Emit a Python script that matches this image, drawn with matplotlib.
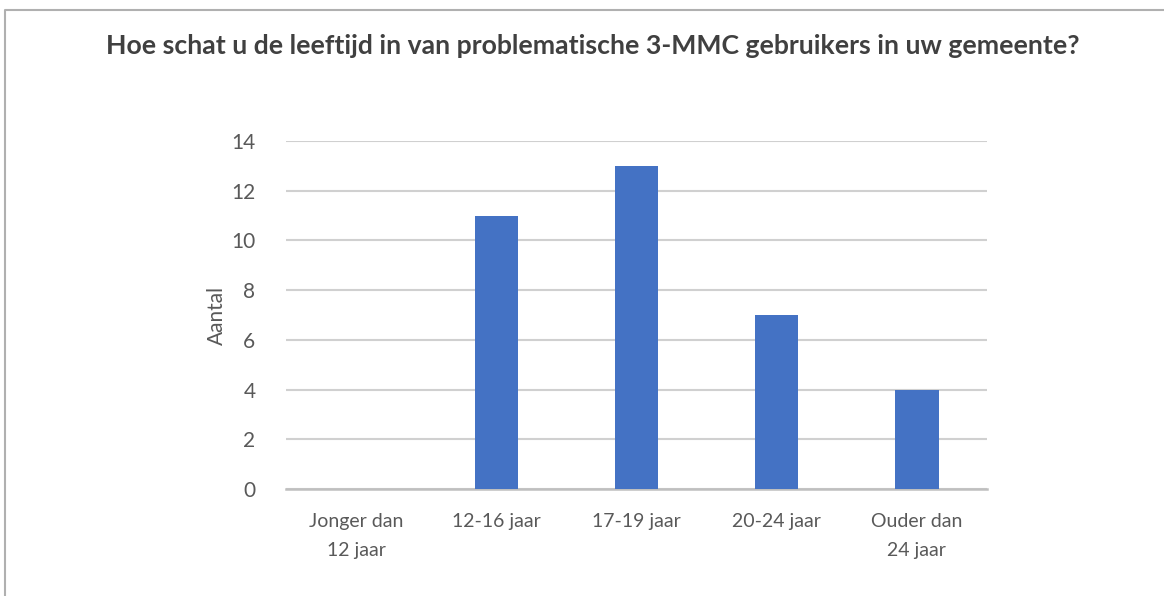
import matplotlib
matplotlib.use('Agg')
import matplotlib.pyplot as plt
from matplotlib.lines import Line2D

# Data
categories = ['Jonger dan\n12 jaar', '12-16 jaar', '17-19 jaar', '20-24 jaar', 'Ouder dan\n24 jaar']
aantal = [0, 11, 13, 7, 4]
yticks = [0, 2, 4, 6, 8, 10, 12, 14]

plt.rcParams['font.family'] = ['Lato', 'DejaVu Sans']

fig = plt.figure(figsize=(11.64, 5.96), dpi=100)
ax = fig.add_axes([286/1164, 1-489/596, (987-286)/1164, (489-141)/596])

x = range(len(categories))
ax.bar(x, aantal, width=0.31, color='#4472c4', zorder=3)

ax.set_xlim(-0.5, len(categories) - 0.5)
ax.set_ylim(0, 14)
ax.set_yticks(yticks)
ax.set_xticks(list(x))
ax.set_xticklabels(categories, fontsize=14, color='#595959', linespacing=1.85)
ax.tick_params(axis='y', labelsize=15, labelcolor='#595959', length=0, pad=22)
ax.tick_params(axis='x', length=0, pad=17)
ax.grid(axis='y', color='#d0d0d0', linewidth=1.5, zorder=0)
for s in ['top', 'right', 'left']:
    ax.spines[s].set_visible(False)
ax.spines['bottom'].set_color('#bfbfbf')
ax.spines['bottom'].set_linewidth(1.8)
ax.set_ylabel('Aantal', fontsize=15, color='#595959', labelpad=3)

fig.text(592.5/1164, 1-46/596, 'Hoe schat u de leeftijd in van problematische 3-MMC gebruikers in uw gemeente?',
         ha='center', va='center', fontsize=19.2, fontweight='bold', color='#404040')

# outer frame (left and top edge)
fig.add_artist(Line2D([5/1164, 5/1164, 1.0], [0.0, 1-10/596, 1-10/596],
                      transform=fig.transFigure, color='#b0b0b0', linewidth=1.5))

fig.savefig('out.png', dpi=100, facecolor='white')
